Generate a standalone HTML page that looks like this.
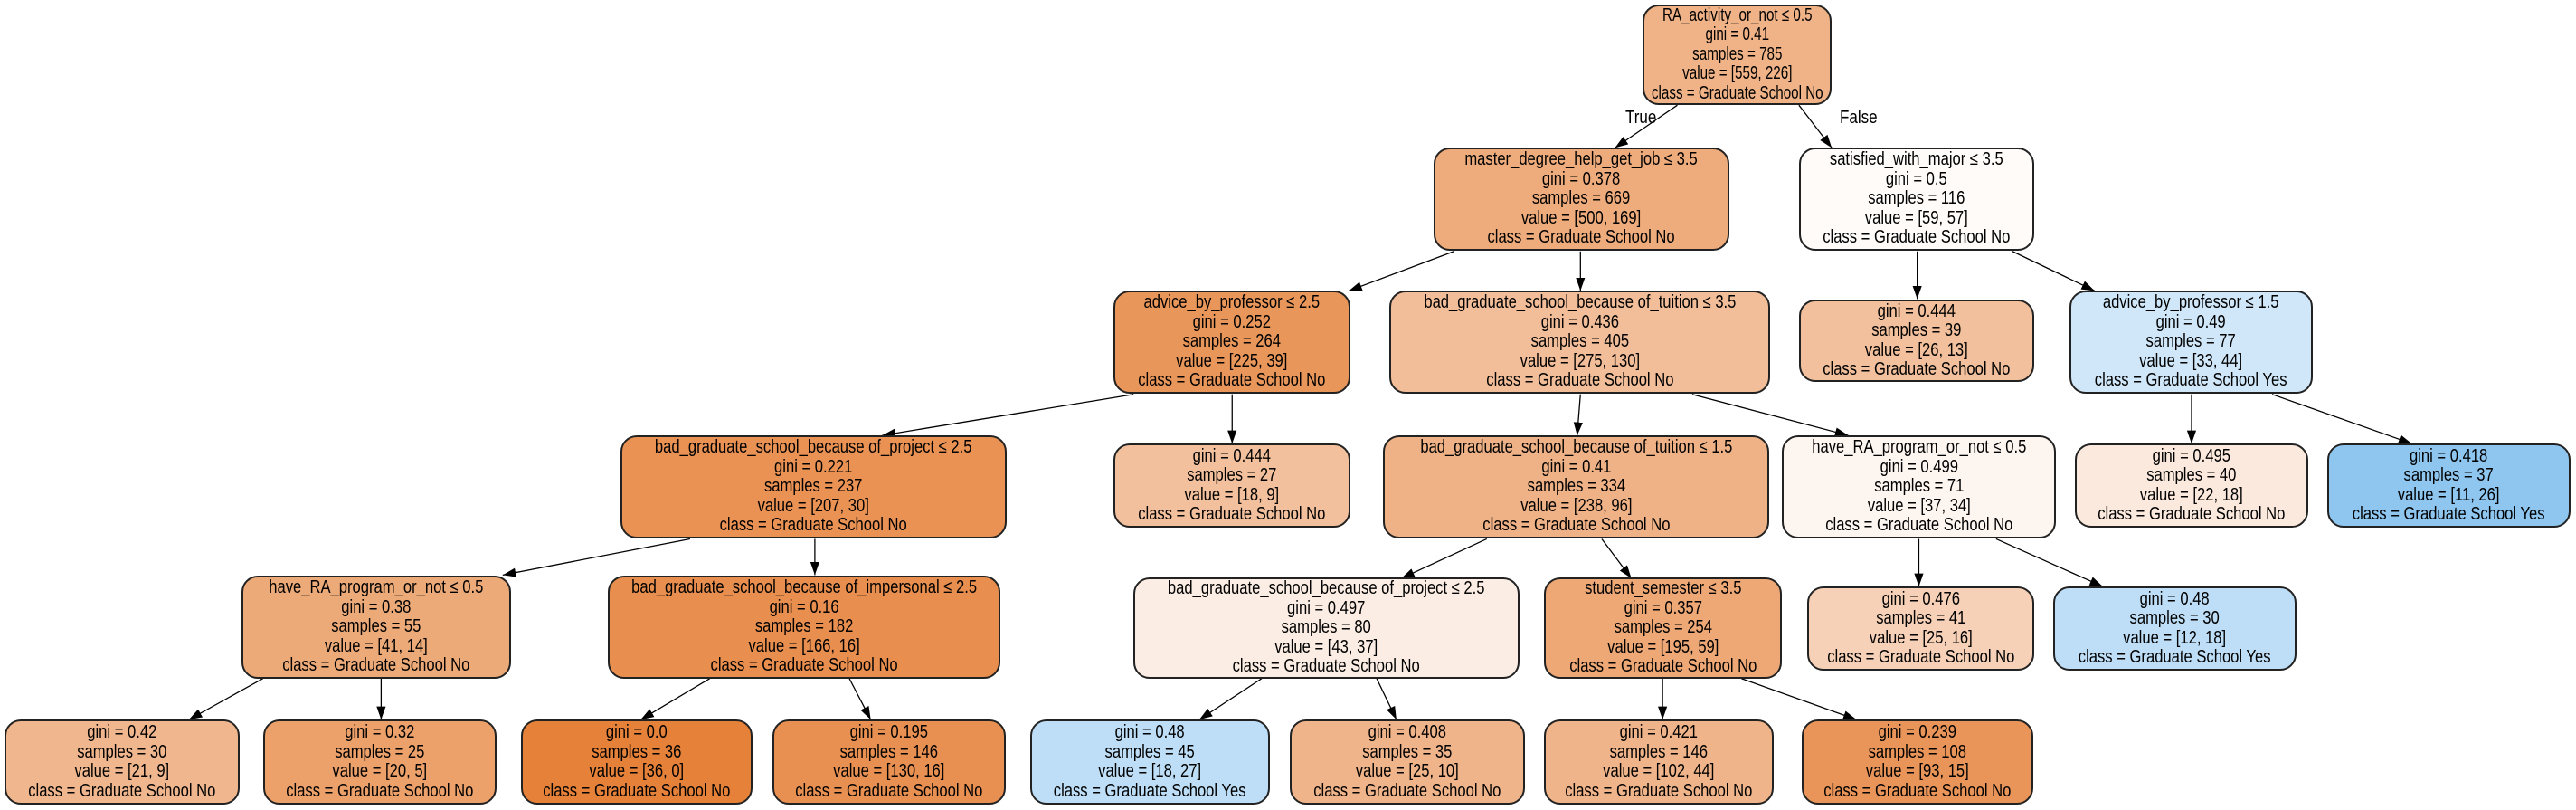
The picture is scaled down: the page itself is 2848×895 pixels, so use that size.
<!DOCTYPE html>
<html><head><meta charset="utf-8"><style>
html,body{margin:0;padding:0;background:#fff;}
#c{position:relative;width:2848px;height:895px;overflow:hidden;background:#fff;font-family:"Liberation Sans",Arial,sans-serif;}
svg{position:absolute;left:0;top:0;}
.n{position:absolute;box-sizing:border-box;border:2px solid #222;border-radius:18px;display:flex;align-items:center;justify-content:center;}
.n span{display:block;text-align:center;font-size:20px;line-height:21.5px;color:#000;white-space:nowrap;transform:scaleX(0.83);}
.lbl{position:absolute;font-size:20px;transform:scaleX(0.85);transform-origin:left top;}
</style></head><body><div id="c">
<svg width="2848" height="895" viewBox="0 0 1568 493" preserveAspectRatio="none">
<defs><marker id="a" markerUnits="userSpaceOnUse" markerWidth="8" markerHeight="8" viewBox="0 0 10 10" refX="10" refY="5" orient="auto"><path d="M0,1.5 L10,5 L0,8.5 z" fill="#000"/></marker></defs>
<g stroke="#000" stroke-width="0.7" fill="none" marker-end="url(#a)">
<line x1="1021" y1="64" x2="983" y2="90"/>
<line x1="1095" y1="64" x2="1115" y2="90"/>
<line x1="885" y1="153" x2="821" y2="177"/>
<line x1="962" y1="153" x2="962" y2="177"/>
<line x1="1167" y1="153" x2="1167" y2="182"/>
<line x1="1225" y1="153" x2="1275" y2="177"/>
<line x1="690" y1="240" x2="537" y2="265"/>
<line x1="750" y1="240" x2="750" y2="270"/>
<line x1="962" y1="240" x2="960" y2="265"/>
<line x1="1030" y1="240" x2="1125" y2="265"/>
<line x1="1334" y1="240" x2="1334" y2="270"/>
<line x1="1383" y1="240" x2="1468" y2="270"/>
<line x1="420" y1="328" x2="306" y2="350"/>
<line x1="496" y1="328" x2="496" y2="350"/>
<line x1="905" y1="328" x2="853" y2="352"/>
<line x1="975" y1="328" x2="993" y2="352"/>
<line x1="1168" y1="328" x2="1168" y2="357"/>
<line x1="1215" y1="328" x2="1280" y2="357"/>
<line x1="160" y1="413" x2="115" y2="438"/>
<line x1="232" y1="413" x2="232" y2="438"/>
<line x1="432" y1="413" x2="390" y2="438"/>
<line x1="517" y1="413" x2="530" y2="438"/>
<line x1="768" y1="413" x2="730" y2="438"/>
<line x1="838" y1="413" x2="850" y2="438"/>
<line x1="1012" y1="413" x2="1012" y2="438"/>
<line x1="1060" y1="413" x2="1130" y2="438"/>
</g></svg>
<div class="lbl" style="left:1797px;top:119px">True</div>
<div class="lbl" style="left:2034px;top:119px">False</div>

<div class="n" style="left:1816px;top:5px;width:209px;height:111px;background:#efb387"><span style="transform:scaleX(0.76)">RA_activity_or_not ≤ 0.5<br>gini = 0.41<br>samples = 785<br>value = [559, 226]<br>class = Graduate School No</span></div>
<div class="n" style="left:1585px;top:163px;width:327px;height:114px;background:#eeab7b"><span>master_degree_help_get_job ≤ 3.5<br>gini = 0.378<br>samples = 669<br>value = [500, 169]<br>class = Graduate School No</span></div>
<div class="n" style="left:1989px;top:163px;width:260px;height:114px;background:#fefbf9"><span>satisfied_with_major ≤ 3.5<br>gini = 0.5<br>samples = 116<br>value = [59, 57]<br>class = Graduate School No</span></div>
<div class="n" style="left:1231px;top:321px;width:262px;height:114px;background:#e9965a"><span>advice_by_professor ≤ 2.5<br>gini = 0.252<br>samples = 264<br>value = [225, 39]<br>class = Graduate School No</span></div>
<div class="n" style="left:1536px;top:321px;width:421px;height:114px;background:#f2be99"><span>bad_graduate_school_because of_tuition ≤ 3.5<br>gini = 0.436<br>samples = 405<br>value = [275, 130]<br>class = Graduate School No</span></div>
<div class="n" style="left:1989px;top:331px;width:260px;height:91px;background:#f2c09c"><span>gini = 0.444<br>samples = 39<br>value = [26, 13]<br>class = Graduate School No</span></div>
<div class="n" style="left:2288px;top:321px;width:269px;height:114px;background:#d0e7f9"><span>advice_by_professor ≤ 1.5<br>gini = 0.49<br>samples = 77<br>value = [33, 44]<br>class = Graduate School Yes</span></div>
<div class="n" style="left:686px;top:481px;width:427px;height:114px;background:#e99254"><span>bad_graduate_school_because of_project ≤ 2.5<br>gini = 0.221<br>samples = 237<br>value = [207, 30]<br>class = Graduate School No</span></div>
<div class="n" style="left:1231px;top:490px;width:262px;height:93px;background:#f2c09c"><span>gini = 0.444<br>samples = 27<br>value = [18, 9]<br>class = Graduate School No</span></div>
<div class="n" style="left:1529px;top:481px;width:427px;height:114px;background:#efb286"><span>bad_graduate_school_because of_tuition ≤ 1.5<br>gini = 0.41<br>samples = 334<br>value = [238, 96]<br>class = Graduate School No</span></div>
<div class="n" style="left:1970px;top:481px;width:303px;height:114px;background:#fdf5f0"><span>have_RA_program_or_not ≤ 0.5<br>gini = 0.499<br>samples = 71<br>value = [37, 34]<br>class = Graduate School No</span></div>
<div class="n" style="left:2294px;top:490px;width:258px;height:93px;background:#fbe9dd"><span>gini = 0.495<br>samples = 40<br>value = [22, 18]<br>class = Graduate School No</span></div>
<div class="n" style="left:2573px;top:490px;width:269px;height:93px;background:#8ec6f0"><span>gini = 0.418<br>samples = 37<br>value = [11, 26]<br>class = Graduate School Yes</span></div>
<div class="n" style="left:267px;top:636px;width:298px;height:114px;background:#edaa79"><span>have_RA_program_or_not ≤ 0.5<br>gini = 0.38<br>samples = 55<br>value = [41, 14]<br>class = Graduate School No</span></div>
<div class="n" style="left:672px;top:636px;width:434px;height:114px;background:#e88e4e"><span>bad_graduate_school_because of_impersonal ≤ 2.5<br>gini = 0.16<br>samples = 182<br>value = [166, 16]<br>class = Graduate School No</span></div>
<div class="n" style="left:1253px;top:638px;width:427px;height:112px;background:#fbede3"><span>bad_graduate_school_because of_project ≤ 2.5<br>gini = 0.497<br>samples = 80<br>value = [43, 37]<br>class = Graduate School No</span></div>
<div class="n" style="left:1707px;top:638px;width:263px;height:112px;background:#eda876"><span>student_semester ≤ 3.5<br>gini = 0.357<br>samples = 254<br>value = [195, 59]<br>class = Graduate School No</span></div>
<div class="n" style="left:1998px;top:648px;width:251px;height:93px;background:#f6d1b7"><span>gini = 0.476<br>samples = 41<br>value = [25, 16]<br>class = Graduate School No</span></div>
<div class="n" style="left:2270px;top:648px;width:269px;height:93px;background:#bddef6"><span>gini = 0.48<br>samples = 30<br>value = [12, 18]<br>class = Graduate School Yes</span></div>

<div class="n" style="left:5px;top:795px;width:260px;height:94px;background:#f0b78e"><span>gini = 0.42<br>samples = 30<br>value = [21, 9]<br>class = Graduate School No</span></div>
<div class="n" style="left:291px;top:795px;width:258px;height:94px;background:#eca06a"><span>gini = 0.32<br>samples = 25<br>value = [20, 5]<br>class = Graduate School No</span></div>
<div class="n" style="left:576px;top:795px;width:256px;height:94px;background:#e58139"><span>gini = 0.0<br>samples = 36<br>value = [36, 0]<br>class = Graduate School No</span></div>
<div class="n" style="left:854px;top:795px;width:258px;height:94px;background:#e89051"><span>gini = 0.195<br>samples = 146<br>value = [130, 16]<br>class = Graduate School No</span></div>
<div class="n" style="left:1139px;top:795px;width:265px;height:94px;background:#bddef6"><span>gini = 0.48<br>samples = 45<br>value = [18, 27]<br>class = Graduate School Yes</span></div>
<div class="n" style="left:1426px;top:795px;width:260px;height:94px;background:#f0b48a"><span>gini = 0.408<br>samples = 35<br>value = [25, 10]<br>class = Graduate School No</span></div>
<div class="n" style="left:1707px;top:795px;width:254px;height:94px;background:#f0b48a"><span>gini = 0.421<br>samples = 146<br>value = [102, 44]<br>class = Graduate School No</span></div>
<div class="n" style="left:1992px;top:795px;width:256px;height:94px;background:#e99559"><span>gini = 0.239<br>samples = 108<br>value = [93, 15]<br>class = Graduate School No</span></div>
</div></body></html>
